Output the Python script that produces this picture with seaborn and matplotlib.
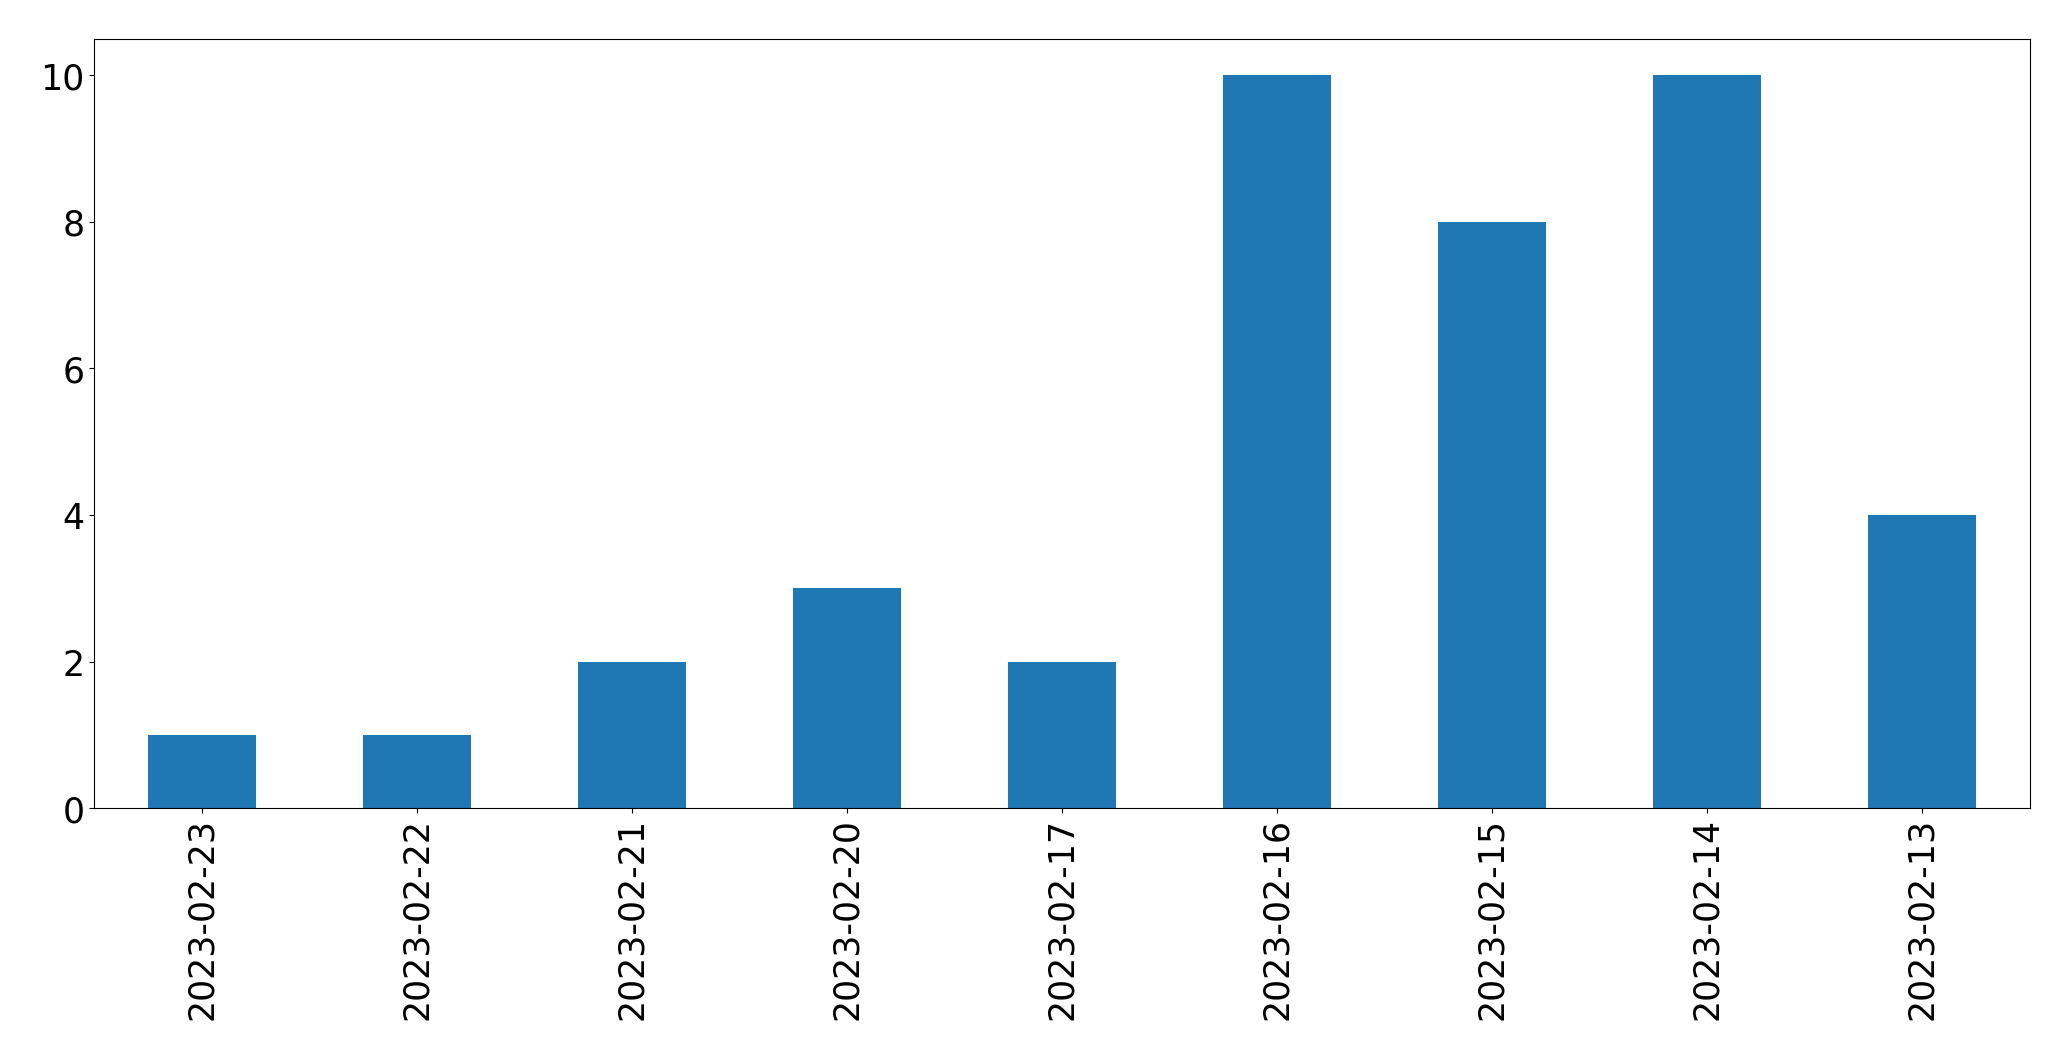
import matplotlib
matplotlib.use("Agg")
import matplotlib.pyplot as plt
import seaborn as sns
import pandas as pd

dates = ["2023-02-23", "2023-02-22", "2023-02-21", "2023-02-20", "2023-02-17",
         "2023-02-16", "2023-02-15", "2023-02-14", "2023-02-13"]
counts = [1, 1, 2, 3, 2, 10, 8, 10, 4]

df = pd.DataFrame({"date": dates, "count": counts})

fig = plt.figure(figsize=(20.71, 10.605), dpi=100)
ax = fig.add_axes([0.0455, 0.2375, 0.9345, 0.7255])
sns.barplot(data=df, x="date", y="count", order=dates, color="#1f77b4",
            saturation=1, width=0.5, linewidth=0, ax=ax)
ax.set_xlim(-0.5, len(dates) - 0.5)
ax.set_ylim(0, 10.5)
ax.set_xlabel("")
ax.set_ylabel("")
ax.tick_params(axis="both", labelsize=25)
plt.setp(ax.get_xticklabels(), rotation=90)
fig.savefig("out.png", dpi=100)
